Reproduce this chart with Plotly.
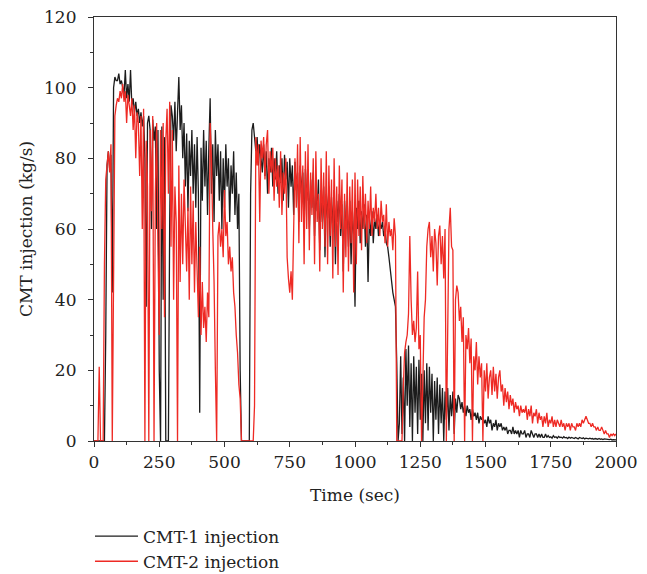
import plotly.graph_objects as go

# Sample grid (seconds), one reading every 5 s from 0 to 2000 s
time_s = list(range(0, 2001, 5))

# CMT-1 injection (kg/s), rows of 20 samples = 100 s each
cmt1 = [
    0, 0, 0, 0, 0, 0, 0, 0, 0, 30, 78, 82, 77, 81, 42, 100, 103, 102, 102, 104,
    101, 102, 100, 98, 105, 97, 101, 96, 105, 95, 97, 93, 96, 92, 94, 90, 93, 89, 92, 80,
    38, 90, 92, 88, 60, 91, 85, 89, 60, 88, 20, 0, 89, 40, 86, 0, 0, 0, 62, 95,
    92, 85, 96, 82, 93, 103, 88, 95, 80, 90, 72, 87, 65, 85, 75, 88, 70, 84, 66, 86,
    70, 8, 83, 68, 88, 72, 85, 64, 83, 97, 70, 84, 62, 88, 75, 84, 68, 82, 60, 80,
    66, 84, 72, 80, 62, 78, 70, 82, 64, 76, 60, 70, 20, 0, 0, 0, 0, 0, 0, 0,
    70, 88, 90, 85, 82, 86, 78, 84, 80, 76, 84, 75, 82, 70, 80, 76, 83, 72, 80, 74,
    82, 70, 78, 73, 80, 68, 81, 74, 79, 66, 80, 72, 78, 64, 79, 71, 76, 62, 78, 70,
    76, 60, 77, 68, 75, 60, 74, 66, 76, 58, 72, 65, 74, 54, 71, 62, 72, 52, 70, 63,
    72, 55, 69, 60, 71, 50, 68, 62, 70, 58, 67, 48, 68, 60, 66, 55, 68, 50, 65, 58,
    38, 66, 60, 68, 56, 65, 60, 67, 55, 64, 45, 63, 58, 65, 56, 63, 60, 64, 58, 62,
    60, 62, 58, 60, 56, 55, 52, 48, 46, 42, 40, 38, 22, 0, 5, 24, 2, 18, 0, 26,
    10, 27, 4, 22, 0, 24, 8, 21, 2, 23, 6, 19, 0, 20, 5, 22, 3, 21, 8, 19,
    0, 17, 6, 18, 2, 16, 5, 15, 0, 14, 6, 15, 3, 13, 7, 14, 2, 12, 8, 13,
    12, 9, 11, 8, 10, 7, 10, 8, 9, 6, 9, 7, 8, 6, 8, 5, 7, 6, 7, 5,
    6, 4, 7, 5, 6, 3, 5, 4, 6, 3, 5, 4, 5, 3, 4, 3, 4, 2, 3, 3,
    2, 4, 2, 3, 2, 3, 1, 3, 2, 2, 3, 1, 2, 2, 1, 3, 2, 1, 2, 2,
    1, 2, 1, 2, 1, 1, 2, 1, 1.5, 1, 1.2, 0.8, 1.5, 1, 1.2, 0.8, 1.3, 1, 1.1, 0.8,
    1.2, 0.9, 1, 0.7, 1.1, 0.8, 1, 0.9, 0.7, 1, 0.8, 0.6, 1, 0.8, 0.7, 0.9, 0.6, 0.8, 0.7, 0.6,
    0.8, 0.6, 0.7, 0.5, 0.7, 0.6, 0.5, 0.7, 0.5, 0.6, 0.4, 0.6, 0.5, 0.4, 0.5, 0.4, 0.5, 0.3, 0.4, 0.4,
    0.3,
]

# CMT-2 injection (kg/s), rows of 20 samples = 100 s each
cmt2 = [
    0, 0, 0, 0, 21, 0, 0, 0, 50, 74, 78, 82, 76, 84, 0, 40, 92, 95, 97, 96,
    99, 97, 101, 96, 99, 90, 98, 95, 92, 97, 88, 95, 80, 93, 90, 75, 92, 60, 94, 0,
    85, 72, 0, 88, 65, 92, 0, 70, 90, 55, 30, 88, 60, 90, 35, 85, 94, 70, 96, 55,
    88, 40, 72, 62, 0, 78, 45, 70, 50, 74, 58, 48, 66, 40, 72, 50, 68, 42, 62, 48,
    35, 55, 30, 45, 32, 38, 28, 42, 35, 90, 80, 60, 45, 20, 0, 58, 62, 55, 60, 52,
    71, 58, 62, 50, 55, 48, 52, 42, 38, 30, 25, 16, 12, 0, 0, 0, 0, 0, 0, 0,
    0, 0, 0, 10, 86, 78, 84, 62, 85, 80, 86, 74, 84, 88, 70, 82, 76, 83, 68, 80,
    72, 78, 66, 82, 64, 76, 70, 80, 52, 46, 42, 48, 40, 60, 80, 66, 84, 56, 86, 62,
    78, 50, 82, 60, 84, 54, 76, 64, 80, 50, 82, 62, 70, 48, 80, 60, 76, 55, 82, 50,
    78, 58, 74, 46, 80, 55, 72, 47, 78, 60, 74, 42, 70, 52, 76, 48, 72, 56, 74, 42,
    76, 50, 74, 58, 72, 54, 75, 60, 70, 56, 68, 60, 72, 58, 66, 62, 70, 60, 66, 58,
    68, 62, 64, 56, 67, 55, 62, 58, 60, 54, 63, 58, 0, 0, 0, 0, 0, 15, 25, 28,
    30, 36, 58, 40, 30, 34, 28, 32, 48, 26, 30, 0, 20, 35, 40, 55, 60, 62, 52, 58,
    48, 60, 56, 44, 58, 61, 50, 58, 46, 60, 0, 30, 60, 66, 55, 54, 0, 40, 44, 42,
    34, 38, 28, 35, 0, 30, 26, 32, 22, 29, 0, 24, 20, 28, 16, 24, 18, 22, 0, 20,
    14, 22, 12, 18, 20, 13, 21, 14, 19, 12, 18, 20, 14, 16, 10, 15, 11, 14, 9, 13,
    10, 12, 8, 11, 9, 10, 7, 10, 8, 9, 8, 10, 6, 9, 7, 10, 5, 8, 7, 9,
    5, 8, 6, 7, 4, 7, 5, 8, 4, 6, 5, 7, 4, 6, 4, 6, 5, 4, 6, 4,
    5, 3, 5, 4, 5, 3, 5, 4, 4, 3, 5, 4, 5, 4, 6, 5, 6, 7, 6, 5,
    5, 4, 5, 4, 4, 3, 4, 3, 3, 4, 3, 2, 3, 2, 2, 1, 2, 1.5, 2, 1.5,
    2,
]

series_names = ["CMT-1 injection", "CMT-2 injection"]
x_ticks = [0, 250, 500, 750, 1000, 1250, 1500, 1750, 2000]
y_ticks = [0, 20, 40, 60, 80, 100, 120]

FONT = "DejaVu Serif, Liberation Serif, serif"
TXT = "#222222"

fig = go.Figure()
fig.add_trace(go.Scatter(x=time_s, y=cmt1, mode="lines", name=series_names[0],
                         line=dict(color="#1c1c1c", width=1.3)))
fig.add_trace(go.Scatter(x=time_s, y=cmt2, mode="lines", name=series_names[1],
                         line=dict(color="#ee2a24", width=1.3)))

axis_common = dict(
    showline=True, linecolor="#333333", linewidth=1.2, mirror=True,
    ticks="outside", ticklen=5, tickwidth=1, tickcolor="#333333",
    showgrid=False, zeroline=False, ticklabeloverflow="allow",
    tickfont=dict(family=FONT, size=17, color=TXT),
)

fig.update_xaxes(
    range=[0, 2000], tickmode="array", tickvals=x_ticks,
    ticktext=[str(v) for v in x_ticks],
    minor=dict(ticks="outside", ticklen=3, dtick=125, tick0=0, tickcolor="#333333"),
    title=dict(text="Time (sec)", font=dict(family=FONT, size=17, color=TXT), standoff=18),
    **axis_common,
)
fig.update_yaxes(
    range=[0, 120], tickmode="array", tickvals=y_ticks,
    ticktext=[str(v) for v in y_ticks],
    minor=dict(ticks="outside", ticklen=3, dtick=10, tick0=0, tickcolor="#333333"),
    ticklabelstandoff=8,
    title=dict(text="CMT injection (kg/s)", font=dict(family=FONT, size=17, color=TXT), standoff=7),
    **axis_common,
)

# The page body has an 8 px default margin, so the figure is 8 px smaller
# and offset so that the plot area lands where the reference has it.
fig.update_layout(
    width=639, height=566,
    margin=dict(l=86, r=31, t=9, b=132.5, pad=0, autoexpand=False),
    paper_bgcolor="white", plot_bgcolor="white",
    showlegend=True,
    legend=dict(
        x=-0.0077, y=-0.183, xanchor="left", yanchor="top",
        font=dict(family=FONT, size=17, color=TXT),
        bgcolor="rgba(0,0,0,0)", tracegroupgap=0, itemwidth=43,
    ),
)

fig.write_html("out.html")
